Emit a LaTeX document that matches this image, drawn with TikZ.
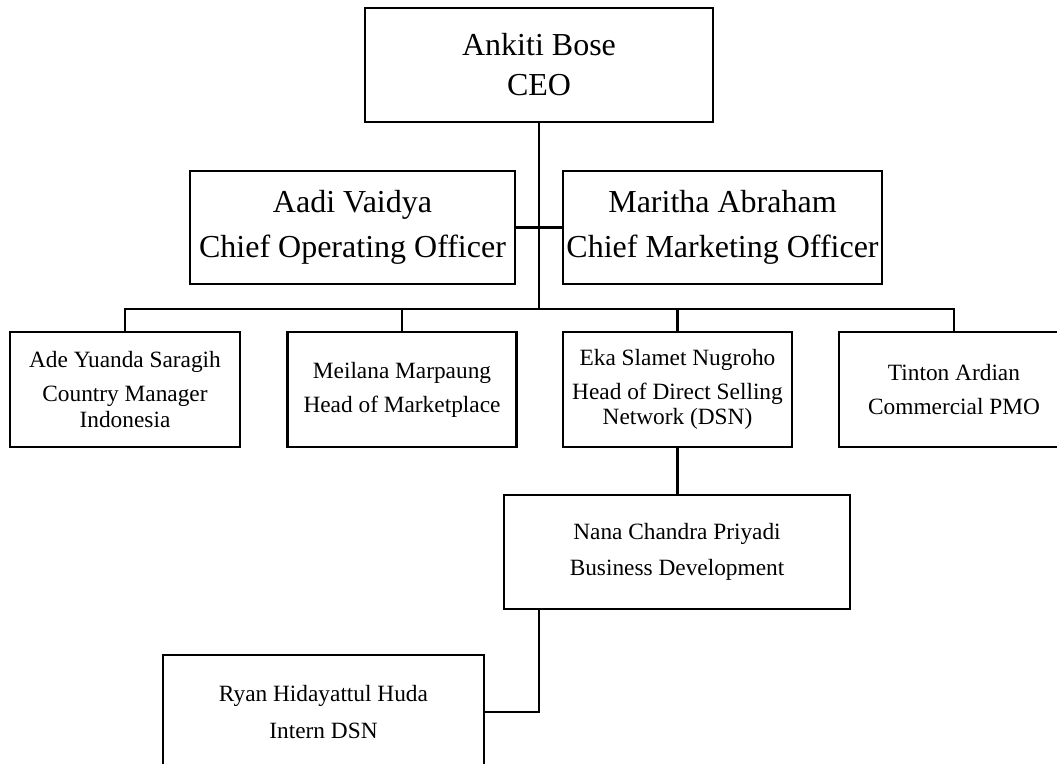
\documentclass[tikz,border=0pt]{standalone}
\usepackage{fontspec}
\setmainfont{Liberation Serif}
\begin{document}
\begin{tikzpicture}[x=0.75pt,y=-0.75pt,
  box/.style={draw=black, line width=1.8pt, fill=white, inner sep=0pt, align=center, text=black},
  sz/.style 2 args={minimum width=#1*0.75pt, minimum height=#2*0.75pt},
  big/.style={font=\fontsize{24}{30}\selectfont},
  small/.style={font=\fontsize{17.5}{19}\selectfont},
  link/.style={draw=black, line width=1.8pt}]
\useasboundingbox (0,0) rectangle (1057,764);
\fill[white] (0,0) rectangle (1057,764);

\node[box, big, sz={348}{114}] (ceo) at (539,65) {Ankiti Bose\\CEO};
\node[box, big, sz={325}{113}] (aadi) at (352.5,227.5) {Aadi Vaidya\\[4pt]Chief Operating Officer};
\node[box, big, sz={319}{113}] (maritha) at (722.5,227.5) {Maritha Abraham\\[4pt]Chief Marketing Officer};

\node[box, small, sz={230}{115}] (ade) at (125,389.5) {Ade Yuanda Saragih\\[6.5pt]Country Manager\\Indonesia};
\node[box, small, sz={229}{115}] (meil) at (402,389.5) {Meilana Marpaung\\[6.5pt]Head of Marketplace};
\node[box, small, sz={229}{115}] (eka) at (677.5,389.5) {Eka Slamet Nugroho\\[6.5pt]Head of Direct Selling\\Network (DSN)};
\node[box, small, sz={230}{115}] (tinton) at (954,389.5) {Tinton Ardian\\[6.5pt]Commercial PMO};

\node[box, small, sz={346}{114}] (nana) at (677,552) {Nana Chandra Priyadi\\[8.5pt]Business Development};
\node[box, small, sz={321}{114}] (ryan) at (323.5,712) {Ryan Hidayattul Huda\\[8.5pt]Intern DSN};

\coordinate (bus) at (539,309);
\draw[link] (ceo.south) -- (bus);
\draw[link] (aadi.east) -- (maritha.west);
\draw[link] (ade.north) |- (bus) -| (tinton.north);
\draw[link] (meil.north) -- (meil.north |- bus);
\draw[link] (eka.north) -- (eka.north |- bus);
\draw[link] (eka.south) -- (eka.south |- nana.north);
\draw[link] (bus |- nana.south) |- (ryan.east);
\end{tikzpicture}
\end{document}
